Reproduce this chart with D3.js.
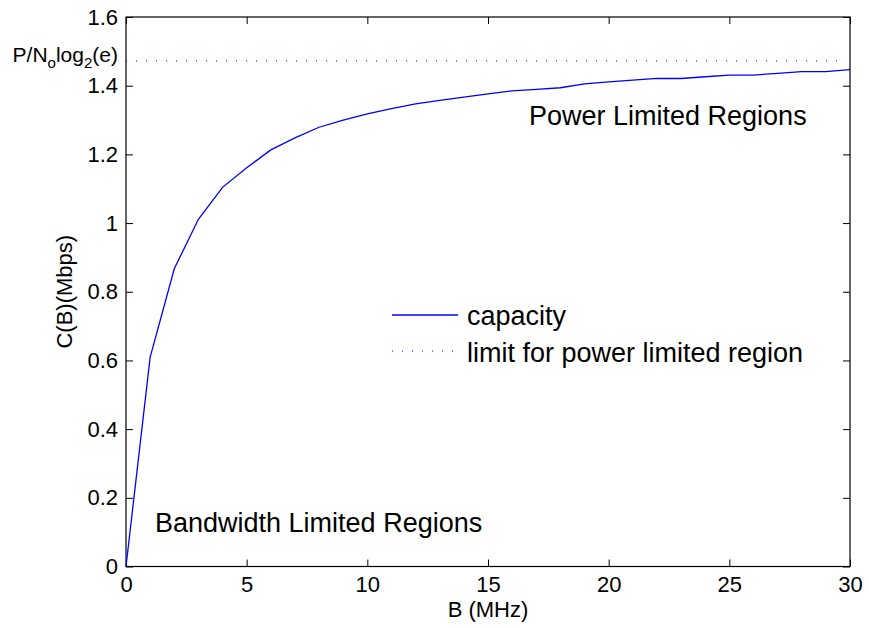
<!DOCTYPE html>
<html>
<head>
<meta charset="utf-8">
<script src="https://cdn.jsdelivr.net/npm/d3@7"></script>
<style>
  body { margin: 0; background: #fff; }
  svg { font-family: "Liberation Sans", Arial, sans-serif; }
  .axis path, .axis line { stroke: #000; }
  .axis text { font-size: 22px; fill: #000; font-family: "Liberation Sans", Arial, sans-serif; }
</style>
</head>
<body>
<svg width="869" height="628"></svg>
<script>
// Data
const bandwidth = d3.range(0, 31);
const capacity = [0, 0.609, 0.867, 1.011, 1.104, 1.161, 1.213, 1.248, 1.279, 1.300,
  1.318, 1.333, 1.347, 1.357, 1.367, 1.376, 1.385, 1.389, 1.394, 1.405,
  1.411, 1.416, 1.421, 1.421, 1.426, 1.431, 1.431, 1.436, 1.441, 1.441, 1.447];
const limitValue = 1.472;
const xTicks = [0, 5, 10, 15, 20, 25, 30];
const yTicks = [0, 0.2, 0.4, 0.6, 0.8, 1, 1.2, 1.4, 1.6];
const legendLabels = ['capacity', 'limit for power limited region'];

const svg = d3.select('svg');
const pLeft = 126, pRight = 850, pTop = 17, pBottom = 566.5;

const x = d3.scaleLinear().domain([0, 30]).range([pLeft, pRight]);
const y = d3.scaleLinear().domain([0, 1.6]).range([pBottom, pTop]);
const fmt = d => String(+d.toFixed(1));

// axes, ticks pointing inward on all sides
svg.append('g').attr('class', 'axis')
  .attr('transform', `translate(0,${pBottom})`)
  .call(d3.axisBottom(x).tickValues(xTicks).tickFormat(fmt).tickSizeInner(-7).tickSizeOuter(0).tickPadding(10));
svg.append('g').attr('class', 'axis')
  .attr('transform', `translate(0,${pTop})`)
  .call(d3.axisTop(x).tickValues(xTicks).tickFormat('').tickSizeInner(-7).tickSizeOuter(0));
svg.append('g').attr('class', 'axis')
  .attr('transform', `translate(${pLeft},0)`)
  .call(d3.axisLeft(y).tickValues(yTicks).tickFormat(fmt).tickSizeInner(-7).tickSizeOuter(0).tickPadding(8));
svg.append('g').attr('class', 'axis')
  .attr('transform', `translate(${pRight},0)`)
  .call(d3.axisRight(y).tickValues(yTicks).tickFormat('').tickSizeInner(-7).tickSizeOuter(0));

svg.selectAll('.axis .domain').remove();
svg.append('rect')
  .attr('x', pLeft).attr('y', pTop)
  .attr('width', pRight - pLeft).attr('height', pBottom - pTop)
  .attr('fill', 'none').attr('stroke', '#000').attr('stroke-width', 1.2);

// limit line
svg.append('line')
  .attr('x1', x(0)).attr('x2', x(29.8))
  .attr('y1', y(limitValue)).attr('y2', y(limitValue))
  .attr('stroke', '#0000ff').attr('stroke-width', 1)
  .attr('stroke-dasharray', '1,9');

// capacity curve
svg.append('path')
  .datum(bandwidth.map((b, i) => [b, capacity[i]]))
  .attr('fill', 'none')
  .attr('stroke', '#0000ff')
  .attr('stroke-width', 1.3)
  .attr('d', d3.line().x(d => x(d[0])).y(d => y(d[1])));

// limit label on the y axis
const lim = svg.append('text')
  .attr('x', 118).attr('y', y(limitValue) + 1)
  .attr('text-anchor', 'end')
  .attr('font-size', 21);
lim.append('tspan').text('P/N');
lim.append('tspan').attr('font-size', 15).attr('dy', 6).text('o');
lim.append('tspan').attr('dy', -6).text('log');
lim.append('tspan').attr('font-size', 15).attr('dy', 6).text('2');
lim.append('tspan').attr('dy', -6).text('(e)');

// axis labels
svg.append('text')
  .attr('x', (pLeft + pRight) / 2).attr('y', 617)
  .attr('text-anchor', 'middle').attr('font-size', 22)
  .text('B (MHz)');
svg.append('text')
  .attr('transform', `translate(72,${(pTop + pBottom) / 2}) rotate(-90)`)
  .attr('text-anchor', 'middle').attr('font-size', 22)
  .text('C(B)(Mbps)');

// region annotations
svg.append('text')
  .attr('x', 529).attr('y', 125)
  .attr('font-size', 27)
  .text('Power Limited Regions');
svg.append('text')
  .attr('x', 155).attr('y', 532)
  .attr('font-size', 27)
  .text('Bandwidth Limited Regions');

// legend
const legend = svg.append('g');
legend.append('line')
  .attr('x1', 392).attr('x2', 458).attr('y1', 315).attr('y2', 315)
  .attr('stroke', '#0000ff').attr('stroke-width', 1.3);
legend.append('line')
  .attr('x1', 392).attr('x2', 458).attr('y1', 351).attr('y2', 351)
  .attr('stroke', '#0000ff').attr('stroke-width', 1)
  .attr('stroke-dasharray', '1,9');
legend.selectAll('text.leg')
  .data(legendLabels)
  .enter()
  .append('text')
  .attr('class', 'leg')
  .attr('x', 467)
  .attr('y', (d, i) => 325 + i * 36.5)
  .attr('font-size', 27)
  .text(d => d);
</script>
</body>
</html>
